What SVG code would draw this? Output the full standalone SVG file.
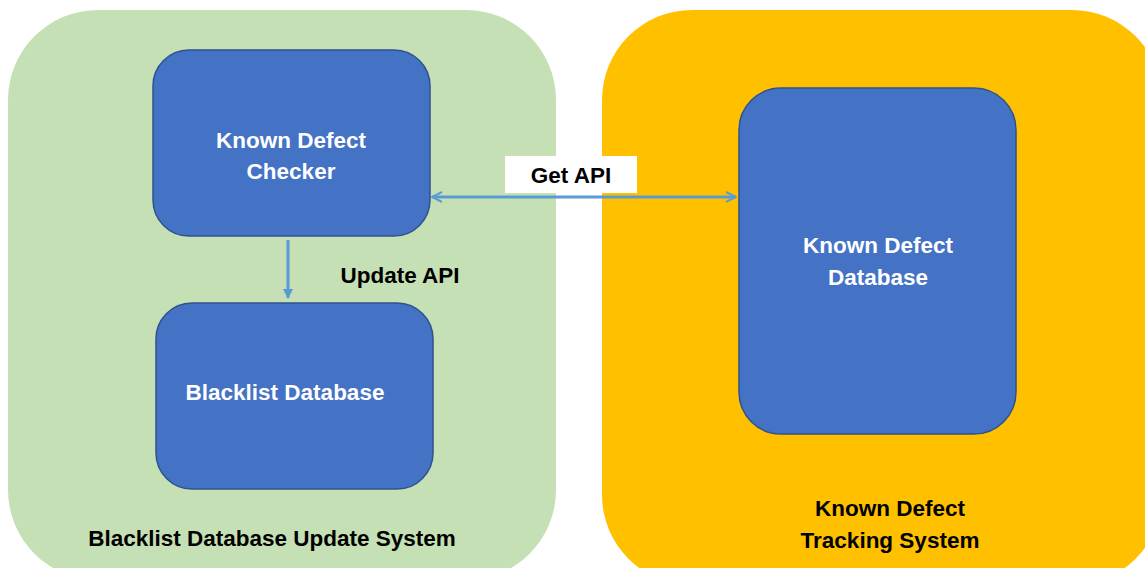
<svg xmlns="http://www.w3.org/2000/svg" width="1145" height="568" viewBox="0 0 1145 568">
<defs>
<style>
.node{fill:#4472C4;stroke:#2F528F;stroke-width:1.5}
.wt{fill:#FFFFFF;font-family:"Liberation Sans",Arial,sans-serif;font-weight:bold;font-size:22.5px;text-anchor:middle}
.bt{fill:#000000;font-family:"Liberation Sans",Arial,sans-serif;font-weight:bold;font-size:22.5px;text-anchor:middle}
.conn{stroke:#5B9BD5;stroke-width:3;fill:none}
</style>
<marker id="open" viewBox="0 0 12 12" refX="11" refY="6" markerWidth="12" markerHeight="12" markerUnits="userSpaceOnUse" orient="auto-start-reverse">
<path d="M1,1 L11,6 L1,11" fill="none" stroke="#5B9BD5" stroke-width="2"/>
</marker>
<marker id="tri" viewBox="0 0 10 10" refX="9" refY="5" markerWidth="10" markerHeight="10" markerUnits="userSpaceOnUse" orient="auto">
<path d="M0,0 L10,5 L0,10 z" fill="#5B9BD5"/>
</marker>
</defs>
<rect width="1145" height="568" fill="#FFFFFF"/>
<g id="blacklist-update-system">
<rect x="8" y="10" width="548" height="570" rx="90" fill="#C5E0B4"/>
<text class="bt" x="272" y="546">Blacklist Database Update System</text>
</g>
<g id="known-defect-tracking-system">
<rect x="602" y="10" width="560" height="575" rx="90" fill="#FFC000"/>
<text class="bt" x="890" y="516">Known Defect</text>
<text class="bt" x="890" y="548">Tracking System</text>
</g>
<g id="known-defect-checker">
<rect class="node" x="153" y="50" width="277" height="186" rx="36"/>
<text class="wt" x="291" y="148">Known Defect</text>
<text class="wt" x="291" y="179">Checker</text>
</g>
<g id="blacklist-database">
<rect class="node" x="156" y="303" width="277" height="186" rx="36"/>
<text class="wt" x="285" y="400">Blacklist Database</text>
</g>
<g id="known-defect-database">
<rect class="node" x="739" y="88" width="277" height="346" rx="42"/>
<text class="wt" x="878" y="253">Known Defect</text>
<text class="wt" x="878" y="285">Database</text>
</g>
<g id="connectors">
<line class="conn" x1="432" y1="197" x2="736" y2="197" marker-start="url(#open)" marker-end="url(#open)"/>
<line class="conn" x1="288" y1="240" x2="288" y2="298" marker-end="url(#tri)"/>
<rect x="505" y="156" width="132" height="37" fill="#FFFFFF"/>
<text class="bt" x="571" y="183">Get API</text>
<text class="bt" x="400" y="283">Update API</text>
</g>
</svg>
